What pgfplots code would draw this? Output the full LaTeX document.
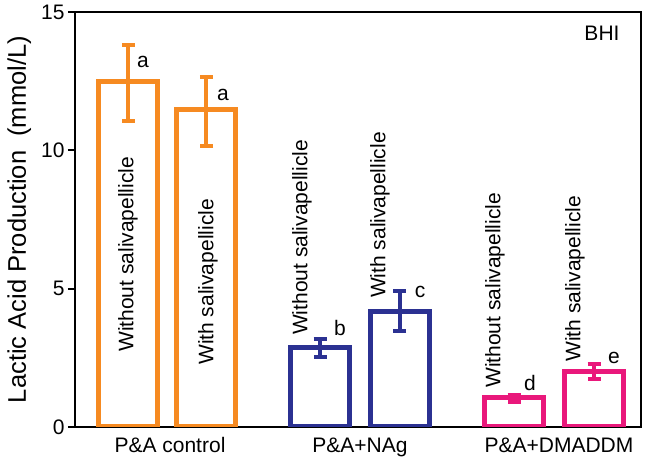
\documentclass[border=0pt]{standalone}
\usepackage{fontspec}
\setmainfont{Liberation Sans}
\usepackage{pgfplots}
\pgfplotsset{compat=1.18}
\definecolor{barorange}{RGB}{246,138,33}
\definecolor{barblue}{RGB}{43,49,146}
\definecolor{barpink}{RGB}{233,24,123}

\pgfplotsset{
  salbar/.style={ybar, bar width=59, bar shift=0pt, draw=#1, fill=white,
    line width=5pt,
    error bars/.cd, y dir=both, y explicit,
    error bar style={line width=4pt, #1},
    error mark options={#1, rotate=90, line width=4pt, mark size=6.5pt}},
}

\begin{document}
\begin{tikzpicture}
\begin{axis}[
  at={(0,0)}, anchor=south west,
  scale only axis, width=566pt, height=415pt,
  xmin=0, xmax=566, ymin=0, ymax=15,
  axis line style={line width=2.5pt},
  ytick={0,5,10,15}, ytick pos=left, tick align=outside,
  major tick length=7pt,
  y tick style={line width=2pt, black},
  xtick={95,285,484},
  xticklabels={P\&A control, P\&A+NAg, P\&A+DMADDM},
  x tick style={draw=none},
  /pgf/number format/assume math mode=true,
  ticklabel style={font=\fontsize{21}{24}\selectfont},
  ylabel={Lactic Acid Production\ \ (mmol/L)},
  ylabel style={font=\fontsize{25.5}{30}\selectfont, yshift=3pt},
]
\addplot[salbar=barorange] coordinates {(53.5,12.47) += (0,1.33) -= (0,1.41)};
\addplot[salbar=barorange] coordinates {(131.5,11.46) += (0,1.19) -= (0,1.30)};
\addplot[salbar=barblue] coordinates {(245,2.89) += (0,0.29) -= (0,0.36)};
\addplot[salbar=barblue] coordinates {(324.5,4.16) += (0,0.74) -= (0,0.69)};
\addplot[salbar=barpink] coordinates {(439,1.05) += (0,0.11) -= (0,0.15)};
\addplot[salbar=barpink] coordinates {(519,1.99) += (0,0.29) -= (0,0.26)};

\begin{scope}[every node/.style={font=\fontsize{21}{24}\selectfont, inner sep=0pt}]
\node[rotate=90, anchor=west] at (axis cs:53,2.71) {Without salivapellicle};
\node[rotate=90, anchor=west] at (axis cs:133,2.24) {With salivapellicle};
\node[rotate=90, anchor=west] at (axis cs:227,3.32) {Without salivapellicle};
\node[rotate=90, anchor=west] at (axis cs:305,4.66) {With salivapellicle};
\node[rotate=90, anchor=west] at (axis cs:420,1.41) {Without salivapellicle};
\node[rotate=90, anchor=west] at (axis cs:500,2.35) {With salivapellicle};
\end{scope}

\begin{scope}[every node/.style={font=\fontsize{21}{24}\selectfont, inner sep=0pt}]
\node at (axis cs:68,13.19) {a};
\node at (axis cs:148,12.0) {a};
\node at (axis cs:265,3.58) {b};
\node at (axis cs:345,4.88) {c};
\node at (axis cs:455,1.59) {d};
\node at (axis cs:539,2.49) {e};
\node at (axis cs:527,14.24) {BHI};
\end{scope}
\end{axis}
\pgfresetboundingbox
\path (-75pt,-41pt) rectangle (574pt,427pt);
\end{tikzpicture}
\end{document}
